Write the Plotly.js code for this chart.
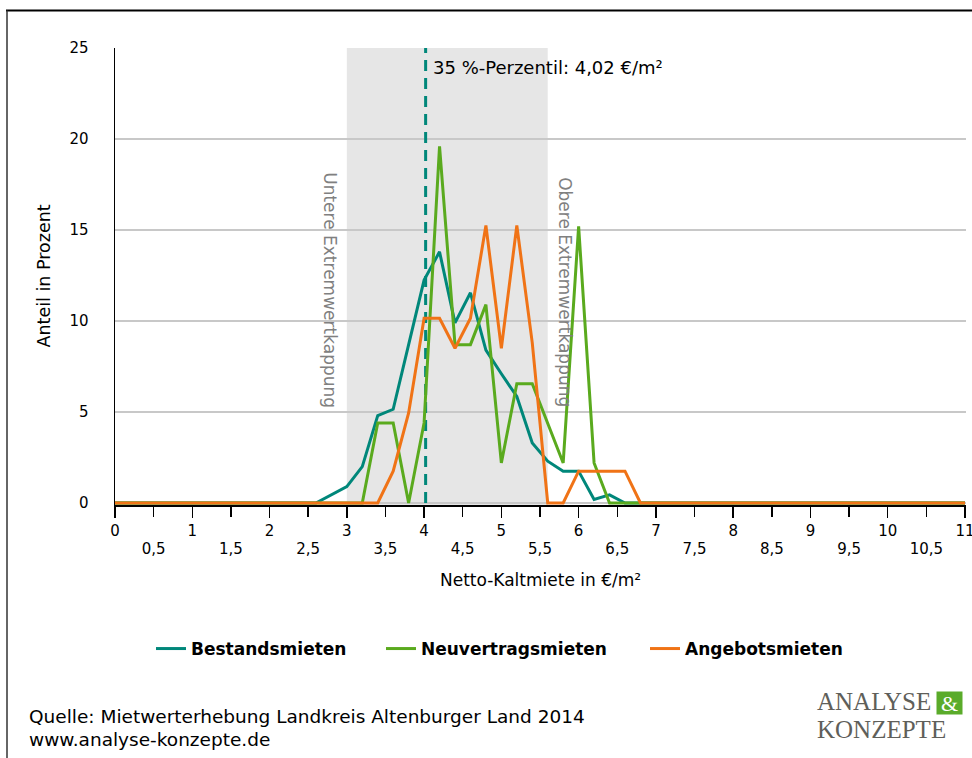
<!DOCTYPE html>
<html>
<head>
<meta charset="utf-8">
<script src="https://cdn.plot.ly/plotly-3.0.1.min.js"></script>
<style>
html,body{margin:0;padding:0;background:#fff;}
#chart{width:972px;height:758px;}
</style>
</head>
<body>
<div id="chart"></div>
<script>
// ---- data ----
var seriesNames = ["Bestandsmieten", "Neuvertragsmieten", "Angebotsmieten"];
var seriesColors = ["#00877a", "#5aaa1e", "#f07316"];

var bestandX = [0, 2.6, 3.0, 3.2, 3.4, 3.6, 3.8, 4.0, 4.2, 4.4, 4.6, 4.8, 5.0, 5.2, 5.4, 5.6, 5.8, 6.0, 6.2, 6.4, 6.6, 11];
var bestandY = [0, 0, 0.9, 2.0, 4.8, 5.15, 8.7, 12.25, 13.8, 9.9, 11.55, 8.4, 7.1, 5.85, 3.3, 2.3, 1.75, 1.75, 0.2, 0.45, 0, 0];

var neuX = [0, 3.2, 3.4, 3.6, 3.8, 4.0, 4.2, 4.4, 4.6, 4.8, 5.0, 5.2, 5.4, 5.6, 5.8, 6.0, 6.2, 6.4, 11];
var neuY = [0, 0, 4.4, 4.4, 0, 4.4, 19.6, 8.7, 8.7, 10.9, 2.2, 6.55, 6.55, 4.4, 2.2, 15.2, 2.2, 0, 0];

var angebotX = [0, 3.4, 3.6, 3.8, 4.0, 4.2, 4.4, 4.6, 4.8, 5.0, 5.2, 5.4, 5.6, 5.8, 6.0, 6.2, 6.4, 6.6, 6.8, 11];
var angebotY = [0, 0, 1.75, 4.95, 10.15, 10.15, 8.5, 10.15, 15.25, 8.5, 15.25, 8.8, 0, 0, 1.75, 1.75, 1.75, 1.75, 0, 0];

var percentileValue = 4.02;
var percentileLabel = "35 %-Perzentil: 4,02 €/m²";
var cappingRange = [3.0, 5.6];

var xMajorTicks = [0, 1, 2, 3, 4, 5, 6, 7, 8, 9, 10, 11];
var xMajorLabels = ["0", "1", "2", "3", "4", "5", "6", "7", "8", "9", "10", "11"];
var xMinorTicks = [0.5, 1.5, 2.5, 3.5, 4.5, 5.5, 6.5, 7.5, 8.5, 9.5, 10.5];
var xMinorLabels = ["0,5", "1,5", "2,5", "3,5", "4,5", "5,5", "6,5", "7,5", "8,5", "9,5", "10,5"];
var yTicks = [0, 5, 10, 15, 20, 25];

var FONT = "'DejaVu Sans', Verdana, sans-serif";
var SERIF = "'Liberation Serif', 'DejaVu Serif', serif";
var legendWidths = [185, 219, 160];

// ---- traces ----
var traces = [];
traces.push({
  x: [percentileValue, percentileValue], y: [0, 25], mode: "lines",
  line: {color: "#00877a", width: 3, dash: "11px,7px"},
  showlegend: false, hoverinfo: "skip", xaxis: "x", yaxis: "y"
});
var xs = [bestandX, neuX, angebotX];
var ys = [bestandY, neuY, angebotY];
for (var i = 0; i < 3; i++) {
  traces.push({
    x: xs[i], y: ys[i], name: seriesNames[i], mode: "lines",
    line: {color: seriesColors[i], width: 3},
    legendwidth: legendWidths[i],
    xaxis: "x", yaxis: "y"
  });
}
// invisible trace to activate second x axis (half ticks)
traces.push({x: [0, 11], y: [0, 0], mode: "lines", line: {width: 0}, opacity: 0,
  showlegend: false, hoverinfo: "skip", xaxis: "x2", yaxis: "y"});

var W = 972, H = 758, ML = 115, MR = 6, MT = 48, MB = 253;
var pw = W - ML - MR, ph = H - MT - MB;
function px2paperX(p) { return (p - ML) / pw; }
function py2paperY(p) { return (H - MB - p) / ph; }

var layout = {
  width: W, height: H,
  margin: {l: ML, r: MR, t: MT, b: MB},
  paper_bgcolor: "#ffffff", plot_bgcolor: "rgba(0,0,0,0)",
  font: {family: FONT, size: 15, color: "#000"},
  xaxis: {
    range: [0, 11.013], tickvals: xMajorTicks, ticktext: xMajorLabels,
    ticks: "outside", ticklen: 11, tickwidth: 1.5, tickcolor: "#000",
    showline: true, linecolor: "#000", linewidth: 2, ticklabeloverflow: "allow",
    showgrid: false, zeroline: false, tickfont: {size: 15}
  },
  xaxis2: {
    overlaying: "x", anchor: "y", side: "bottom",
    range: [0, 11.013], tickvals: xMinorTicks, ticktext: xMinorLabels,
    ticks: "outside", ticklen: 11, tickwidth: 1.5, tickcolor: "#000",
    ticklabelstandoff: 19,
    showline: false, showgrid: false, zeroline: false, tickfont: {size: 15}
  },
  yaxis: {
    range: [-0.11, 25], tickvals: yTicks,
    showgrid: true, gridcolor: "#c8c8c8", gridwidth: 1.5,
    showline: true, linecolor: "#000", linewidth: 1.5,
    zeroline: false, ticks: "", ticklabelstandoff: 22, tickfont: {size: 15}
  },
  showlegend: true,
  legend: {
    orientation: "h", xref: "container", yref: "container",
    x: 151 / W, xanchor: "left", y: (H - 649) / H, yanchor: "middle",
    font: {family: FONT, size: 17, color: "#000", weight: "bold"},
    itemwidth: 30, bgcolor: "rgba(0,0,0,0)"
  },
  shapes: [
    {type: "rect", xref: "x", yref: "y", x0: cappingRange[0], x1: cappingRange[1], y0: -0.11, y1: 25,
     fillcolor: "#e6e6e6", line: {width: 0}, layer: "below"},
    {type: "line", xref: "paper", yref: "paper", x0: px2paperX(6), x1: px2paperX(972),
     y0: py2paperY(10.5), y1: py2paperY(10.5), line: {color: "#000", width: 2}},
    {type: "line", xref: "paper", yref: "paper", x0: px2paperX(7), x1: px2paperX(7),
     y0: py2paperY(10.5), y1: py2paperY(758), line: {color: "#333", width: 1.5}}
  ],
  annotations: [
    {text: percentileLabel, xref: "x", yref: "y", x: percentileValue, y: 25,
     xanchor: "left", yanchor: "middle", xshift: 5, yshift: -19, showarrow: false,
     font: {family: FONT, size: 18, color: "#000"}},
    {text: "Untere Extremwertkappung", xref: "x", yref: "y", x: cappingRange[0], y: 11.7,
     xanchor: "center", yanchor: "middle", xshift: -17, textangle: 90, showarrow: false,
     font: {family: FONT, size: 17, color: "#808080"}},
    {text: "Obere Extremwertkappung", xref: "x", yref: "y", x: cappingRange[1], y: 11.6,
     xanchor: "center", yanchor: "middle", xshift: 17, textangle: 90, showarrow: false,
     font: {family: FONT, size: 17, color: "#808080"}},
    {text: "Netto-Kaltmiete in €/m²", xref: "paper", yref: "paper", x: 0.5, y: 0,
     xanchor: "center", yshift: -75, yanchor: "middle", showarrow: false,
     font: {family: FONT, size: 17, color: "#000"}},
    {text: "Anteil in Prozent", xref: "paper", yref: "paper", x: 0, y: 0.5,
     xanchor: "center", yanchor: "middle", xshift: -72, textangle: -90, showarrow: false,
     font: {family: FONT, size: 17.5, color: "#000"}},
    {text: "Quelle: Mietwerterhebung Landkreis Altenburger Land 2014", xref: "paper", yref: "paper",
     x: px2paperX(27), y: py2paperY(716), xanchor: "left", yanchor: "middle", showarrow: false,
     font: {family: FONT, size: 18.5, color: "#000"}},
    {text: "www.analyse-konzepte.de", xref: "paper", yref: "paper",
     x: px2paperX(27), y: py2paperY(739), xanchor: "left", yanchor: "middle", showarrow: false,
     font: {family: FONT, size: 18.5, color: "#000"}},
    {text: "ANALYSE", xref: "paper", yref: "paper",
     x: px2paperX(933), y: py2paperY(701.5), xanchor: "right", yanchor: "middle", showarrow: false,
     font: {family: SERIF, size: 25, color: "#5f5f5a"}},
    {text: "KONZEPTE", xref: "paper", yref: "paper",
     x: px2paperX(815), y: py2paperY(729.5), xanchor: "left", yanchor: "middle", showarrow: false,
     font: {family: SERIF, size: 25, color: "#5f5f5a"}},
    {text: "&", xref: "paper", yref: "paper",
     x: px2paperX(949.5), y: py2paperY(702.5), xanchor: "center", yanchor: "middle", showarrow: false,
     width: 25, height: 22, bgcolor: "#5aab2a", borderpad: 0,
     font: {family: SERIF, size: 22, color: "#ffffff"}}
  ]
};

Plotly.newPlot("chart", traces, layout, {displayModeBar: false, staticPlot: true});
</script>
</body>
</html>
